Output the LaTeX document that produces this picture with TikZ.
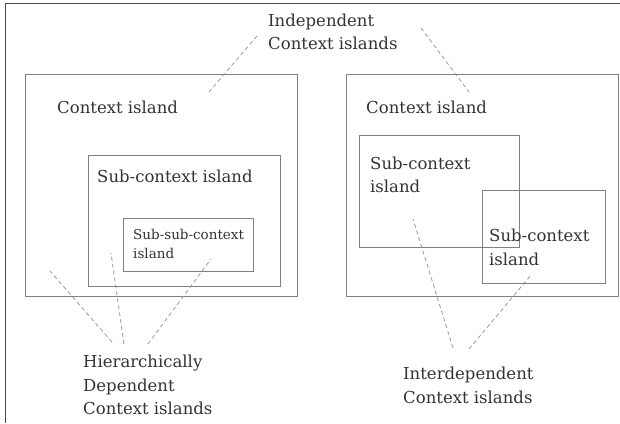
\documentclass[tikz,border=0pt]{standalone}
\usepackage{fontspec}
\setmainfont{DejaVu Serif}
\begin{document}
\begin{tikzpicture}[x=1pt,y=-1pt,
  frameline/.style={draw=black!70,line width=1.4pt},
  islandbox/.style={draw=black!50,line width=0.9pt},
  lbl/.style={anchor=west,inner sep=0pt,align=left,text=black!80,font=\fontsize{16.5}{23.5}\selectfont},
  smalllbl/.style={anchor=west,inner sep=0pt,align=left,text=black!80,font=\fontsize{13.5}{19}\selectfont},
  pointer/.style={draw=black!40,line width=0.8pt,dash pattern=on 4pt off 3pt}]
\useasboundingbox (0,0) rectangle (620,423);
% outer frame (top and left)
\coordinate (ftr) at (620,3.5);
\coordinate (ftl) at (5.5,3.5);
\coordinate (fbl) at (5.5,423);
\draw[frameline] (ftr) -- (ftl) -- (fbl);
% boxes
\draw[islandbox] (25,74) rectangle (297,296);
\draw[islandbox] (88,155) rectangle (280,286);
\draw[islandbox] (123,218) rectangle (253,271);
\draw[islandbox] (346,74) rectangle (618,296);
\draw[islandbox] (359,135) rectangle (519,247);
\draw[islandbox] (482,190) rectangle (605,283);
% labels
\node[lbl] (ind) at (268,32) {Independent\\Context islands};
\node[lbl] (ci1) at (57,107) {Context island};
\node[lbl] (ci2) at (366,107) {Context island};
\node[lbl] (sc1) at (97,176) {Sub-context island};
\node[smalllbl] (ssc) at (133,243.5) {Sub-sub-context\\island};
\node[lbl] (sc2) at (370,175) {Sub-context\\island};
\node[lbl] (sc3) at (489,247.5) {Sub-context\\island};
\node[lbl] (hier) at (83,385) {Hierarchically\\Dependent\\Context islands};
\node[lbl] (inter) at (403,385.5) {Interdependent\\Context islands};
% pointer end points
\coordinate (p1) at (209,92);
\coordinate (p2) at (469,92);
\coordinate (p3) at (50,271);
\coordinate (p4) at (111,253);
\coordinate (p5) at (211,259);
\coordinate (p6) at (413,219);
\coordinate (p7) at (531,275);
\coordinate (i1) at (257,36);
\coordinate (i2) at (421,28);
\coordinate (h1) at (112,342);
\coordinate (h2) at (124,344);
\coordinate (h3) at (148,344);
\coordinate (t1) at (453,348);
\coordinate (t2) at (469,349);
\draw[pointer] (i1) -- (p1);
\draw[pointer] (i2) -- (p2);
\draw[pointer] (h1) -- (p3);
\draw[pointer] (h2) -- (p4);
\draw[pointer] (h3) -- (p5);
\draw[pointer] (t1) -- (p6);
\draw[pointer] (t2) -- (p7);
\end{tikzpicture}
\end{document}
